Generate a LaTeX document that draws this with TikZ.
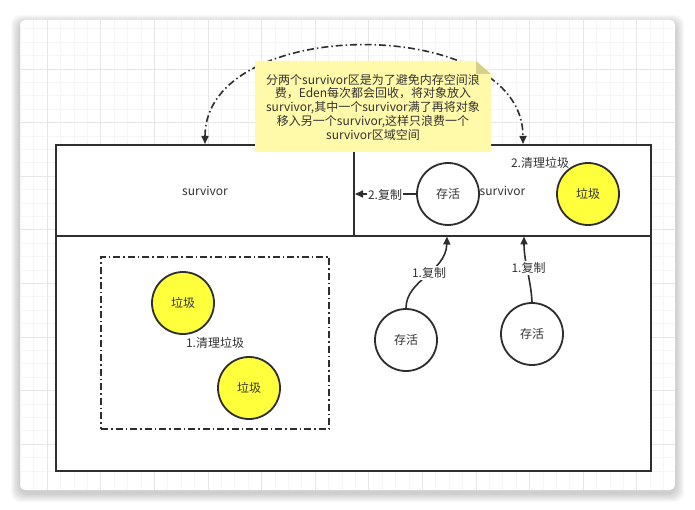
\documentclass[tikz,border=0pt]{standalone}
\usepackage{fontspec}
\setmainfont{Noto Sans CJK SC}
\usetikzlibrary{arrows.meta,shapes.geometric}
\definecolor{txt}{HTML}{333333}
\definecolor{ln}{HTML}{2E2E2E}
\definecolor{ylw}{RGB}{255,255,60}
\definecolor{notefill}{RGB}{255,249,170}
\definecolor{foldc}{RGB}{214,208,138}
\definecolor{gmin}{RGB}{245,245,245}
\definecolor{gmaj}{RGB}{230,230,230}
\tikzset{
  every node/.style={text=txt, font=\fontsize{12}{14}\selectfont},
  boxline/.style={draw=ln, line width=2pt},
  circ/.style={circle, draw=ln, line width=1.8pt, minimum size=62pt, inner sep=0pt, fill=white},
  garb/.style={circ, fill=ylw},
  conn/.style={draw=ln, line width=1.6pt, -{Triangle[length=8pt,width=7pt]}},
  dashdotline/.style={draw=ln, line width=1.6pt, dash pattern=on 7pt off 3pt on 1.5pt off 3pt},
  lbl/.style={fill=white, inner sep=1pt},
}
\begin{document}
\begin{tikzpicture}[x=1pt,y=-1pt]
\useasboundingbox (0,0) rectangle (695,510);
% card shadow
\foreach \k in {1,...,9}{
  \fill[black, opacity=0.025, rounded corners=9pt] (20-\k,20-\k+4) rectangle (675+\k,490+\k+3);
}
\fill[white, rounded corners=5pt] (20,20) rectangle (675,490);
% grid
\begin{scope}
\clip[rounded corners=5pt] (20,20) rectangle (675,490);
\foreach \i in {-2,...,48}{
  \draw[gmin, line width=0.8pt] ({47.1+13.4*\i},20) -- ({47.1+13.4*\i},490);
}
\foreach \i in {-1,...,34}{
  \draw[gmin, line width=0.8pt] (20,{15.4+13.4*\i}) -- (675,{15.4+13.4*\i});
}
\foreach \i in {0,...,12}{
  \draw[gmaj, line width=0.8pt] ({47.1+53.6*\i},20) -- ({47.1+53.6*\i},490);
}
\foreach \i in {0,...,9}{
  \draw[gmaj, line width=0.8pt] (20,{15.4+53.6*\i}) -- (675,{15.4+53.6*\i});
}
\end{scope}
% outer box
\node[boxline, fill=white, minimum width=595pt, minimum height=326pt, inner sep=0pt] (outer) at (353.5,308) {};
\coordinate (divL) at (56,236);
\coordinate (divR) at (651,236);
\coordinate (divT) at (354,145);
\coordinate (divB) at (354,236);
\draw[boxline] (divL) -- (divR);
\draw[boxline] (divT) -- (divB);
\node (survL) at (205,190.5) {survivor};
\node (survR) at (502.5,190.5) {survivor};
% dash-dot region
\node[dashdotline, fill=white, minimum width=228pt, minimum height=172pt, inner sep=0pt] (region) at (215,343) {};
\node[garb] (g1) at (183,303) {垃圾};
\node[garb] (g2) at (249,388) {垃圾};
\node (clean1) at (215,343) {1.清理垃圾};
% right survivor content
\node[circ] (a1) at (448,194) {存活};
\node[garb] (g3) at (588,194) {垃圾};
\node (clean2) at (540,163) {2.清理垃圾};
\coordinate (c2) at (355,194);
\draw[conn] (a1.west) -- (c2);
\node[lbl] (l2) at (385,194.5) {2.复制};
% eden alive
\node[circ] (a2) at (406,340) {存活};
\node[circ] (a3) at (532,334) {存活};
\coordinate (t1) at (447,236.5);
\coordinate (t2) at (524,236.5);
\draw[conn] (a2.north) .. controls (406,280) and (446,272) .. (t1);
\draw[conn] (a3.north) .. controls (531,280) and (524,262) .. (t2);
\node[lbl] (l1a) at (429,273) {1.复制};
\node[lbl] (l1b) at (528.5,268) {1.复制};
% dash-dot arc
\coordinate (arcA) at (205,144);
\coordinate (arcB) at (523,144);
\draw[dashdotline, {Triangle[length=8pt,width=7pt]}-{Triangle[length=8pt,width=7pt]}] (arcA) .. controls (205,14) and (523,14) .. (arcB);
% note
\fill[notefill] (255,61) -- (476,61) -- (491,74) -- (491,152) -- (255,152) -- cycle;
\fill[foldc] (476,61) -- (476,74) -- (491,74) -- cycle;
\node[align=center, font=\fontsize{12}{13.7}\selectfont, inner sep=0pt] (note) at (373,107) {分两个survivor区是为了避免内存空间浪\\费，Eden每次都会回收，将对象放入\\survivor,其中一个survivor满了再将对象\\移入另一个survivor,这样只浪费一个\\survivor区域空间};
\end{tikzpicture}
\end{document}
